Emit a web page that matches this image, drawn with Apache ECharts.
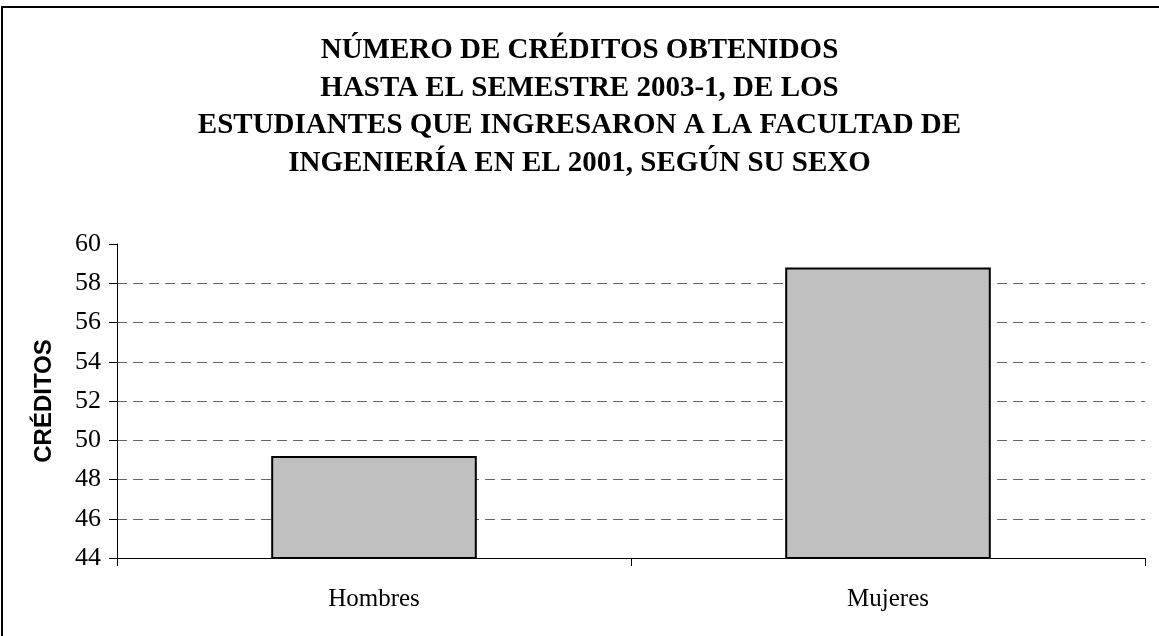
<!DOCTYPE html>
<html>
<head>
<meta charset="utf-8">
<script src="https://cdn.jsdelivr.net/npm/echarts@6/dist/echarts.min.js"></script>
<style>
  html, body { margin: 0; padding: 0; background: #fff; }
  #chart { width: 1159px; height: 636px; }
</style>
</head>
<body>
<div id="chart"></div>
<script>
const categories = ['Hombres', 'Mujeres']
const creditos = [49.2, 58.8]
const yTicks = { min: 44, max: 60, step: 2 }

const chart = echarts.init(document.getElementById('chart'))

const option = {
  backgroundColor: '#fff',
  animation: false,
  title: {
    text: 'NÚMERO DE CRÉDITOS OBTENIDOS\nHASTA EL SEMESTRE 2003-1, DE LOS\nESTUDIANTES QUE INGRESARON A LA FACULTAD DE\nINGENIERÍA EN EL 2001, SEGÚN SU SEXO',
    left: 'center',
    top: 27,
    textStyle: {
      fontFamily: 'Liberation Serif',
      fontWeight: 'bold',
      fontSize: 29,
      lineHeight: 37.5,
      color: '#000',
    },
  },
  graphic: [
    {
      type: 'rect',
      shape: { x: 2, y: 7, width: 1300, height: 800 },
      style: { fill: 'none', stroke: '#000', lineWidth: 2 },
      silent: true,
    },
  ],
  grid: { left: 117, right: 14, top: 244, bottom: 78 },
  xAxis: {
    type: 'category',
    data: categories,
    axisLine: { lineStyle: { color: '#000', width: 1 } },
    axisTick: { show: true, length: 8, lineStyle: { color: '#000' } },
    axisLabel: {
      fontFamily: 'Liberation Serif',
      fontSize: 25,
      color: '#000',
      margin: 29,
    },
  },
  yAxis: {
    type: 'value',
    min: yTicks.min,
    max: yTicks.max,
    interval: yTicks.step,
    name: 'CRÉDITOS',
    nameLocation: 'middle',
    nameGap: 61,
    nameTextStyle: {
      fontFamily: 'Liberation Sans',
      fontWeight: 'bold',
      fontSize: 24,
      color: '#000',
    },
    axisLine: { show: true, lineStyle: { color: '#000', width: 1 } },
    axisTick: { show: true, length: 8, lineStyle: { color: '#000' } },
    axisLabel: {
      fontFamily: 'Liberation Serif',
      fontSize: 26,
      color: '#000',
      margin: 16,
    },
    splitLine: {
      show: true,
      showMaxLine: false,
      lineStyle: { color: '#666', type: [10, 6], width: 1 },
    },
  },
  series: [
    {
      name: 'Créditos',
      type: 'bar',
      data: creditos,
      barWidth: '40%',
      itemStyle: {
        color: '#c0c0c0',
        borderColor: '#000',
        borderWidth: 2,
      },
    },
  ],
}

chart.setOption(option)

window.addEventListener('resize', () => {
  chart.resize()
})
</script>
</body>
</html>
